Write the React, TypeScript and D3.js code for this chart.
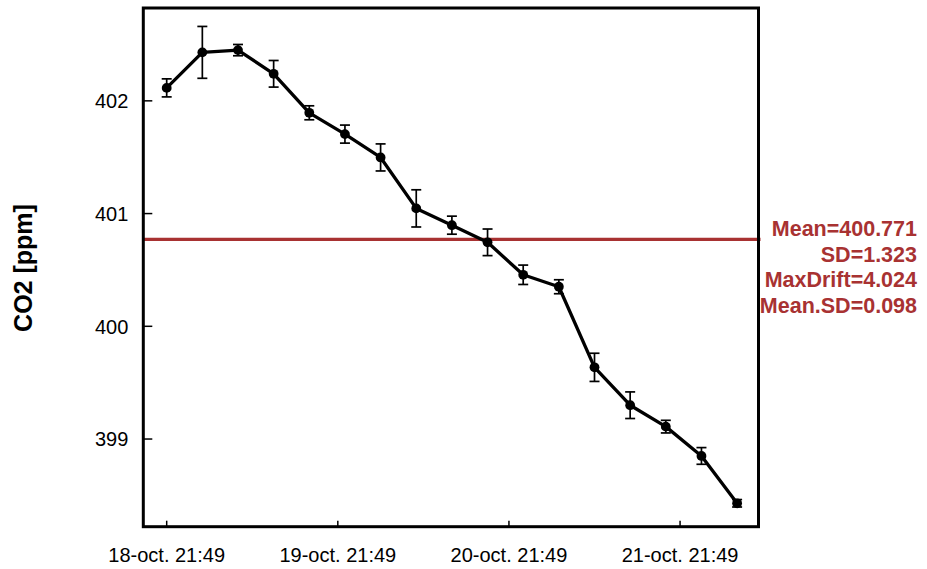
import React from "react";
import * as d3 from "d3";

const times = [
  "2015-10-18T21:49", "2015-10-19T02:49", "2015-10-19T07:49", "2015-10-19T12:49",
  "2015-10-19T17:49", "2015-10-19T22:49", "2015-10-20T03:49", "2015-10-20T08:49",
  "2015-10-20T13:49", "2015-10-20T18:49", "2015-10-20T23:49", "2015-10-21T04:49",
  "2015-10-21T09:49", "2015-10-21T14:49", "2015-10-21T19:49", "2015-10-22T00:49",
  "2015-10-22T05:49",
];
const co2 = [402.115, 402.43, 402.45, 402.24, 401.894, 401.705, 401.498, 401.046, 400.897,
  400.745, 400.457, 400.351, 399.636, 399.30, 399.11, 398.85, 398.43];
const sd = [0.08, 0.23, 0.05, 0.118, 0.062, 0.08, 0.12, 0.165, 0.08, 0.118, 0.086, 0.062,
  0.125, 0.118, 0.056, 0.074, 0.033];
const xTickTimes = ["2015-10-18T21:49", "2015-10-19T21:49", "2015-10-20T21:49", "2015-10-21T21:49"];
const xTickLabels = ["18-oct. 21:49", "19-oct. 21:49", "20-oct. 21:49", "21-oct. 21:49"];
const yTicks = [399, 400, 401, 402];
const meanValue = 400.771;
const statLines = ["Mean=400.771", "SD=1.323", "MaxDrift=4.024", "Mean.SD=0.098"];
const yTitle = "CO2 [ppm]";

const W = 927, H = 569;
const L = 143.3, R = 758.5, T = 8, B = 526.7;
const RED = "#a83232";
const FONT = "Liberation Sans, Arial, sans-serif";

export default function App() {
  const t0 = new Date(times[0]).getTime();
  const hour = 3600 * 1000;
  const x = d3.scaleTime()
    .domain([new Date(t0 - 3.28 * hour), new Date(t0 + 83.0 * hour)])
    .range([L, R]);
  const y = d3.scaleLinear().domain([398.2223, 402.8236]).range([B, T]);
  const pts = times.map((t, i) => ({ t: new Date(t), v: co2[i], e: sd[i] }));
  const line = d3.line<any>().x((d) => x(d.t)).y((d) => y(d.v));

  return (
    <svg width={W} height={H} style={{ position: "absolute", left: 0, top: 0, background: "#fff" }}
      fontFamily={FONT}>
      <rect x={0} y={0} width={W} height={H} fill="#fff" />
      {/* mean line */}
      <line x1={L} x2={R + 2} y1={y(meanValue)} y2={y(meanValue)} stroke={RED} strokeWidth={3.3} />
      {/* error bars */}
      {pts.map((d, i) => (
        <g key={"e" + i} stroke="#000" strokeWidth={1.7}>
          <line x1={x(d.t)} x2={x(d.t)} y1={y(d.v - d.e)} y2={y(d.v + d.e)} />
          <line x1={x(d.t) - 5} x2={x(d.t) + 5} y1={y(d.v - d.e)} y2={y(d.v - d.e)} />
          <line x1={x(d.t) - 5} x2={x(d.t) + 5} y1={y(d.v + d.e)} y2={y(d.v + d.e)} />
        </g>
      ))}
      <path d={line(pts) || ""} fill="none" stroke="#000" strokeWidth={3.3} strokeLinejoin="round" />
      {pts.map((d, i) => (
        <circle key={"c" + i} cx={x(d.t)} cy={y(d.v)} r={4.9} fill="#000" />
      ))}
      {/* frame */}
      <rect x={L} y={T} width={R - L} height={B - T} fill="none" stroke="#000" strokeWidth={3} />
      {/* y ticks */}
      {yTicks.map((v) => (
        <g key={"y" + v}>
          <line x1={L} x2={L + 9} y1={y(v)} y2={y(v)} stroke="#000" strokeWidth={1.5} />
          <text x={L - 15} y={y(v)} dy="0.36em" textAnchor="end" fontSize={20} fill="#000">{v}</text>
        </g>
      ))}
      {/* x ticks */}
      {xTickTimes.map((t, i) => (
        <g key={"x" + i}>
          <line x1={x(new Date(t))} x2={x(new Date(t))} y1={B} y2={B - 6} stroke="#000" strokeWidth={1.5} />
          <text x={x(new Date(t))} y={561.7} textAnchor="middle" fontSize={20} fill="#000">{xTickLabels[i]}</text>
        </g>
      ))}
      {/* y title */}
      <text transform={`translate(31.7,268) rotate(-90)`} textAnchor="middle" fontSize={25}
        fontWeight="bold" fill="#000">{yTitle}</text>
      {/* stats */}
      {statLines.map((s, i) => (
        <text key={"s" + i} x={917} y={236 + i * 25.7} textAnchor="end" fontSize={21.5}
          fontWeight="bold" fill={RED}>{s}</text>
      ))}
    </svg>
  );
}
